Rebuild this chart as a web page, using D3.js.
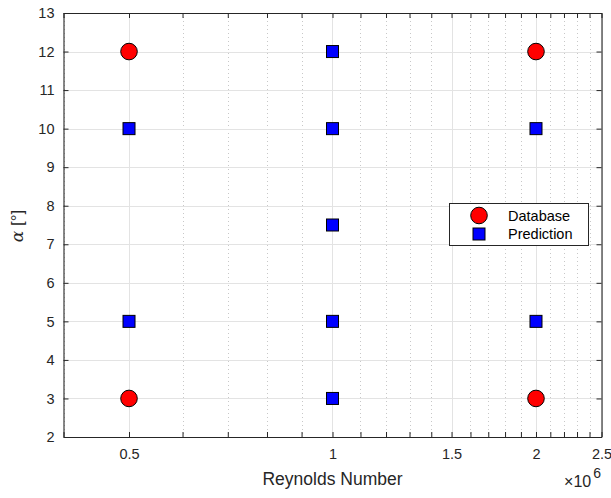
<!DOCTYPE html>
<html><head><meta charset="utf-8">
<script src="https://cdn.jsdelivr.net/npm/d3@7/dist/d3.min.js"></script>
<style>body{margin:0;background:#fff}svg{display:block}</style>
</head><body>
<script>
const databaseRe = [0.5e6, 0.5e6, 2e6, 2e6];
const databaseAlpha = [12, 3, 12, 3];
const predictionRe = [0.5e6, 0.5e6, 1e6, 1e6, 1e6, 1e6, 1e6, 2e6, 2e6];
const predictionAlpha = [10, 5, 12, 10, 7.5, 5, 3, 10, 5];
const xMajorTicks = [0.5e6, 1e6, 1.5e6, 2e6, 2.5e6];
const xTickLabels = ["0.5", "1", "1.5", "2", "2.5"];
const xMinorTicks = [0.4e6,0.6e6,0.7e6,0.8e6,0.9e6,1.1e6,1.2e6,1.3e6,1.4e6,1.6e6,1.7e6,1.8e6,1.9e6,2.1e6,2.2e6,2.3e6,2.4e6];
const yTicks = [2,3,4,5,6,7,8,9,10,11,12,13];
const seriesNames = ["Database", "Prediction"];

const W = 611, H = 498;
const L = 63.5, R = 601.5, T = 13, B = 437;
const txt = "#262626";
const font = "'Liberation Sans', Arial, Helvetica, sans-serif";

const svg = d3.select("body").append("svg").attr("width", W).attr("height", H);
const x = d3.scaleLog().domain([0.4e6, 2.5e6]).range([L, R]);
const y = d3.scaleLinear().domain([2, 13]).range([B, T]);

// grid
const g = svg.append("g");
g.selectAll(".mg").data(xMinorTicks).enter().append("line")
  .attr("x1", d => Math.round(x(d)) + 0.5).attr("x2", d => Math.round(x(d)) + 0.5)
  .attr("y1", T).attr("y2", B).attr("stroke", "#c8c8c8").attr("stroke-width", 1)
  .attr("stroke-dasharray", "1,3");
g.selectAll(".xg").data(xMajorTicks).enter().append("line")
  .attr("x1", d => Math.round(x(d)) + 0.5).attr("x2", d => Math.round(x(d)) + 0.5)
  .attr("y1", T).attr("y2", B).attr("stroke", "#e3e3e3").attr("stroke-width", 1);
g.selectAll(".yg").data(yTicks).enter().append("line")
  .attr("x1", L).attr("x2", R)
  .attr("y1", d => Math.round(y(d)) + 0.5).attr("y2", d => Math.round(y(d)) + 0.5)
  .attr("stroke", "#e3e3e3").attr("stroke-width", 1);

// axes (inward ticks)
const tl = 5;
const xb = d3.axisBottom(x).tickValues(xMajorTicks).tickFormat((d, i) => xTickLabels[i]).tickSizeInner(-tl).tickSizeOuter(0).tickPadding(12);
const axB = svg.append("g").attr("transform", `translate(0,${B})`).call(xb);
const xbm = d3.axisBottom(x).tickValues(xMinorTicks).tickFormat("").tickSizeInner(-tl).tickSizeOuter(0);
svg.append("g").attr("transform", `translate(0,${B})`).call(xbm).select(".domain").remove();
const xt = d3.axisTop(x).tickValues(xMajorTicks.concat(xMinorTicks)).tickFormat("").tickSizeInner(-tl).tickSizeOuter(0);
svg.append("g").attr("transform", `translate(0,${T})`).call(xt);
const yl = d3.axisLeft(y).tickValues(yTicks).tickFormat(d3.format("d")).tickSizeInner(-tl).tickSizeOuter(0).tickPadding(9);
svg.append("g").attr("transform", `translate(${L},0)`).call(yl);
const yr = d3.axisRight(y).tickValues(yTicks).tickFormat("").tickSizeInner(-tl).tickSizeOuter(0);
svg.append("g").attr("transform", `translate(${R},0)`).call(yr);

svg.selectAll(".domain").attr("stroke", txt).attr("stroke-width", 1.1);
svg.selectAll(".tick line").attr("stroke", txt);
svg.selectAll(".tick text").attr("fill", txt).style("font-family", font).style("font-size", "14.5px");
axB.selectAll(".tick text").attr("dy", "0.71em");

// markers
svg.append("g").selectAll("rect").data(predictionRe).enter().append("rect")
  .attr("x", (d, i) => x(d) - 6).attr("y", (d, i) => y(predictionAlpha[i]) - 6)
  .attr("width", 12).attr("height", 12)
  .attr("fill", "#0000ff").attr("stroke", "#000").attr("stroke-width", 1);
svg.append("g").selectAll("circle").data(databaseRe).enter().append("circle")
  .attr("cx", d => x(d)).attr("cy", (d, i) => y(databaseAlpha[i]))
  .attr("r", 8.3).attr("fill", "#ff0000").attr("stroke", "#000").attr("stroke-width", 1);

// labels
svg.append("text").attr("x", (L + R) / 2).attr("y", 485).attr("text-anchor", "middle")
  .attr("fill", txt).style("font-family", font).style("font-size", "17.5px").text("Reynolds Number");
const ya = svg.append("text").attr("transform", "translate(23,226) rotate(-90)").attr("text-anchor", "middle")
  .attr("fill", txt).style("font-family", font).style("font-size", "17px");
ya.append("tspan").style("font-family", "'DejaVu Serif', 'Liberation Serif', serif").style("font-style", "italic").text("α");
ya.append("tspan").text(" [°]");

const ex = svg.append("text").attr("x", 601).attr("y", 487).attr("text-anchor", "end")
  .attr("fill", txt).style("font-family", font).style("font-size", "16px");
ex.append("tspan").text("×10");
ex.append("tspan").attr("dy", -9).attr("dx", 2).style("font-size", "14px").text("6");

// legend
const lg = svg.append("g");
lg.append("rect").attr("x", 449.5).attr("y", 203.5).attr("width", 139).attr("height", 42)
  .attr("fill", "#fff").attr("stroke", txt).attr("stroke-width", 1);
lg.append("circle").attr("cx", 479).attr("cy", 215.5).attr("r", 8.3).attr("fill", "#ff0000").attr("stroke", "#000");
lg.append("rect").attr("x", 473).attr("y", 228).attr("width", 12).attr("height", 12).attr("fill", "#0000ff").attr("stroke", "#000");
lg.selectAll("text.l").data(seriesNames).enter().append("text")
  .attr("x", 508).attr("y", (d, i) => 220.5 + i * 18.5).attr("fill", "#000")
  .style("font-family", font).style("font-size", "14.5px").text(d => d);
</script>
</body></html>
